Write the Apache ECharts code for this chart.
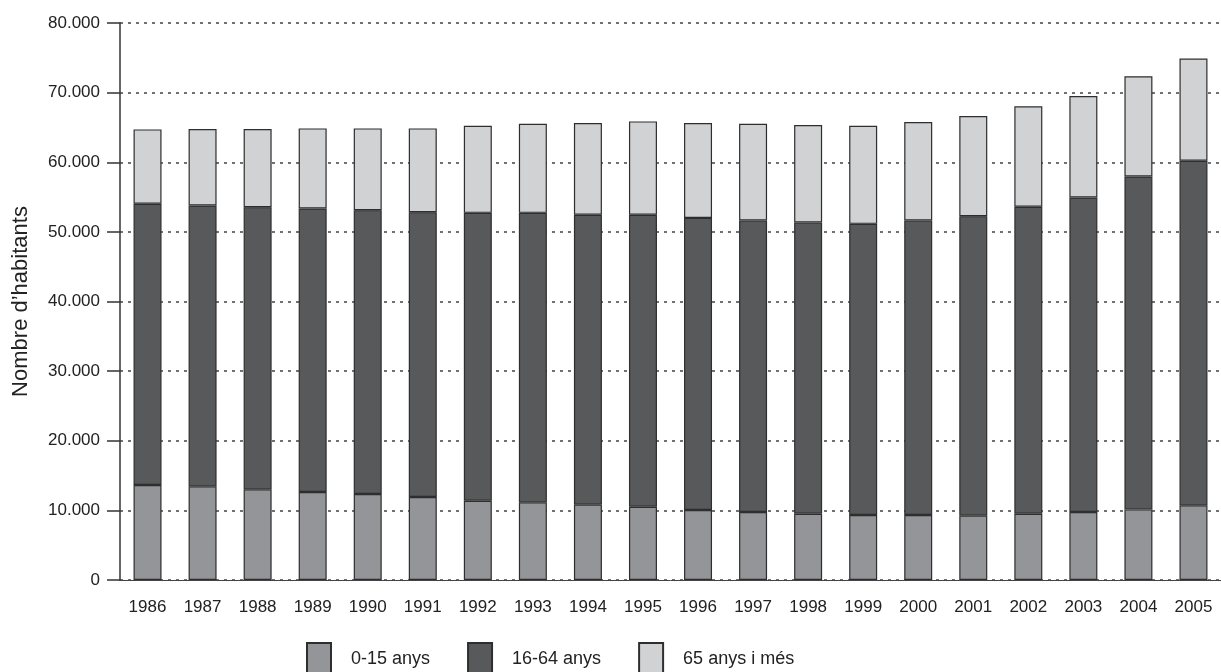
<!DOCTYPE html>
<html>
<head>
<meta charset="utf-8">
<script src="https://cdn.jsdelivr.net/npm/echarts@6/dist/echarts.min.js"></script>
<style>
html,body{margin:0;padding:0;background:#fff;}
#chart{width:1221px;height:672px;}
</style>
</head>
<body>
<div id="chart"></div>
<script>
const years = ['1986','1987','1988','1989','1990','1991','1992','1993','1994','1995','1996','1997','1998','1999','2000','2001','2002','2003','2004','2005'];
const age0to15 = [13640,13450,13020,12630,12350,11920,11390,11150,10820,10530,10050,9760,9520,9330,9330,9240,9520,9760,10140,10720];
const age16to64 = [40390,40340,40530,40730,40770,40910,41340,41580,41630,41920,41960,41870,41820,41820,42300,43020,44080,45180,47820,49500];
const age65plus = [10690,10980,11220,11500,11740,12030,12520,12810,13190,13420,13630,13910,14010,14100,14150,14390,14430,14580,14390,14670];
const seriesNames = ['0-15 anys','16-64 anys','65 anys i més'];
const yTicks = {min:0, max:80000, interval:10000};

const FONT = '"Liberation Sans", Arial, Helvetica, sans-serif';
const chart = echarts.init(document.getElementById('chart'), null, {renderer:'canvas'});
function mk(name, data, color){
  return {
    name, type:'bar', stack:'total', data, barWidth:28,
    itemStyle:{color, borderColor:'#2e2e2e', borderWidth:1.2},
    emphasis:{disabled:true}
  };
}
chart.setOption({
  animation:false,
  backgroundColor:'#fff',
  grid:{left:120, right:0, top:23, bottom:92, containLabel:false},
  legend:{
    left:301, top:637, padding:5, itemWidth:24, itemHeight:32, itemGap:37,
    icon:'rect',
    textStyle:{fontFamily:FONT, fontSize:18, color:'#222', padding:[0,0,0,15]},
    data:seriesNames
  },
  xAxis:{
    type:'category', data:years,
    axisLine:{show:true, lineStyle:{color:'#444', width:1}},
    axisTick:{show:false},
    axisLabel:{fontFamily:FONT, fontSize:17, color:'#222', margin:19},
    splitLine:{show:false}
  },
  yAxis:{
    type:'value', min:yTicks.min, max:yTicks.max, interval:yTicks.interval,
    name:'Nombre d\u2019habitants', nameLocation:'middle', nameGap:88, nameRotate:90,
    nameTextStyle:{fontFamily:FONT, fontSize:22, color:'#222'},
    axisLine:{show:true, lineStyle:{color:'#333', width:1.5}},
    axisTick:{show:true, length:13, lineStyle:{color:'#333', width:1.5}},
    axisLabel:{fontFamily:FONT, fontSize:17, color:'#222', margin:20,
      formatter:v => v===0 ? '0' : String(v).replace(/\B(?=(\d{3})+(?!\d))/g,'.')},
    splitLine:{show:true, lineStyle:{color:'#444', width:1.5, type:[3,5]}}
  },
  series:[
    mk(seriesNames[0], age0to15, '#939598'),
    mk(seriesNames[1], age16to64, '#58595b'),
    mk(seriesNames[2], age65plus, '#d1d2d4')
  ]
});
</script>
</body>
</html>
